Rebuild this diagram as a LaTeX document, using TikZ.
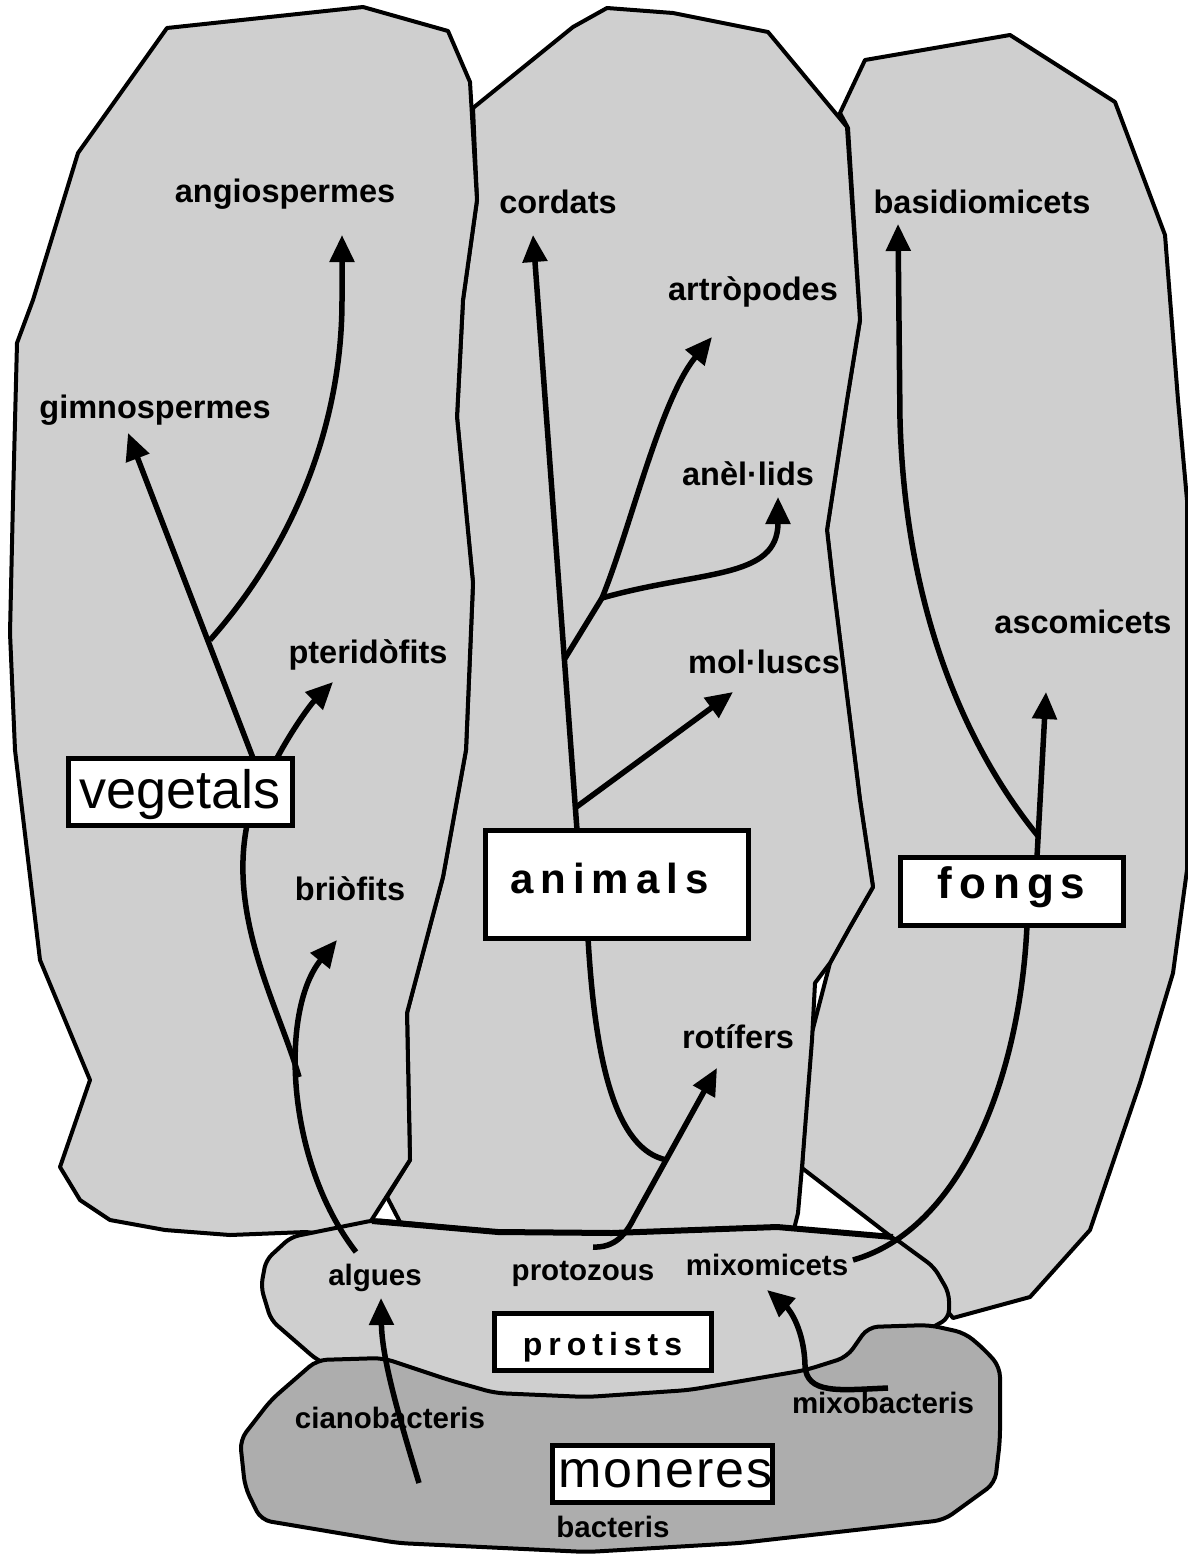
\documentclass[tikz,border=0pt]{standalone}
\usepackage{fontspec}
\setmainfont{Liberation Sans}
\usetikzlibrary{arrows.meta}
\definecolor{liteshade}{gray}{0.81}
\definecolor{darkshade}{gray}{0.68}
\begin{document}
\begin{tikzpicture}[x=1pt,y=-1pt,
  region/.style={draw=black,line width=4pt,fill=liteshade,line join=round},
  darkregion/.style={region,fill=darkshade},
  branchline/.style={line width=5.5pt},
  arr/.style={line width=5.5pt,-{Triangle[length=27pt,width=24pt]}},
  lbl/.style={font=\fontsize{32.5}{36}\selectfont\bfseries,inner sep=0pt,anchor=base},
  lowlbl/.style={font=\fontsize{29.5}{33}\selectfont\bfseries,inner sep=0pt,anchor=base},
  kbox/.style={draw=black,line width=5pt,fill=white,inner sep=0pt,anchor=center}
]
\useasboundingbox (0,0) rectangle (1188,1555);
\fill[white] (0,0) rectangle (1188,1555);

% ---------- regions ----------
\draw[region] (840,113) -- (865,60) -- (1010,35) -- (1115,102) -- (1165,235) -- (1178,400)
  -- (1187,500) -- (1187,870) -- (1173,973) -- (1140,1083) -- (1090,1230) -- (1030,1297)
  -- (953,1318) -- (930,1290) -- (898,1242) -- (802,1168) -- (810,1040) -- (830,963)
  -- (850,927) -- (873,887) -- (860,800) -- (833,583) -- (827,530) -- (847,400)
  -- (860,320) -- (848,128) -- cycle;
\draw[region] (473,108) -- (573,27) -- (607,8) -- (673,13) -- (768,32) -- (847,127)
  -- (860,320) -- (847,400) -- (827,530) -- (833,583) -- (860,800) -- (873,887)
  -- (850,927) -- (830,963) -- (815,983) -- (812,1040) -- (802,1167) -- (798,1213)
  -- (790,1245) -- (410,1245) -- (400,1222) -- (387,1197) -- (410,1160) -- (407,1013)
  -- (443,877) -- (466,750) -- (473,583) -- (457,417) -- (463,300) -- (477,200) -- cycle;
\draw[region] (167,28) -- (363,7) -- (448,31) -- (470,82) -- (477,200) -- (463,300)
  -- (457,417) -- (473,583) -- (466,750) -- (443,877) -- (407,1013) -- (410,1160)
  -- (360,1238) -- (306,1232) -- (230,1235) -- (165,1230) -- (110,1220) -- (80,1200)
  -- (60,1167) -- (90,1080) -- (40,960) -- (15,750) -- (10,633) -- (13,500)
  -- (17,343) -- (33,300) -- (78,153) -- cycle;
% protists
\draw[region,rounded corners=8pt] (291,1237) -- (375,1220) -- (498,1232) -- (612,1233)
  -- (777,1227) -- (893,1237) -- (934,1267) -- (949,1293) -- (949,1318) -- (933,1327)
  -- (900,1345) -- (800,1390) -- (600,1410) -- (450,1395) -- (340,1370) -- (317,1360)
  -- (271,1320) -- (261,1287) -- (266,1260) -- cycle;
\draw[line width=6pt,line join=round] (372,1221) -- (498,1232) -- (612,1233) -- (777,1227) -- (893,1237);
% moneres
\draw[darkregion,rounded corners=10pt] (317,1360) -- (383,1358) -- (449,1380) -- (495,1393)
  -- (587,1397) -- (689,1390) -- (806,1370) -- (847,1357) -- (868,1327) -- (929,1325)
  -- (965,1333) -- (985,1350) -- (1000,1367) -- (1000,1440) -- (995,1483) -- (944,1520)
  -- (740,1543) -- (587,1552) -- (398,1543) -- (261,1520) -- (245,1487) -- (240,1440)
  -- (271,1400) -- cycle;

% ---------- labels ----------
\node[lbl] (angio) at (285,202) {angiospermes};
\node[lbl] (cord) at (558,213) {cordats};
\node[lbl] (basid) at (982,213) {basidiomicets};
\node[lbl] (artro) at (753,300) {artròpodes};
\node[lbl] (gimno) at (155,418) {gimnospermes};
\node[lbl] (anel) at (748,485) {anèl·lids};
\node[lbl] (pteri) at (368,663) {pteridòfits};
\node[lbl] (mollu) at (764,673) {mol·luscs};
\node[lbl] (ascom) at (1083,633) {ascomicets};
\node[lbl] (brio) at (350,900) {briòfits};
\node[lbl] (roti) at (738,1048) {rotífers};
\node[lowlbl] (algu) at (375,1285) {algues};
\node[lowlbl] (proto) at (583,1280) {protozous};
\node[lowlbl] (mixom) at (767,1275) {mixomicets};
\node[lowlbl] (mixob) at (883,1413) {mixobacteris};
\node[lowlbl] (ciano) at (390,1428) {cianobacteris};
\node[lowlbl] (bact) at (613,1537) {bacteris};

% ---------- coordinates ----------
\coordinate (gimTip) at (128,433);
\coordinate (angBr) at (210,640);
\coordinate (angTip) at (342,235);
\coordinate (pteTip) at (333,682);
\coordinate (vegJoin) at (299,1077);
\coordinate (algStart) at (356,1252);
\coordinate (briTip) at (337,940);
\coordinate (corTip) at (533,235);
\coordinate (artBr) at (564,660);
\coordinate (molBr) at (575,808);
\coordinate (molTip) at (733,692);
\coordinate (annBr) at (602,598);
\coordinate (artTip) at (712,337);
\coordinate (annTip) at (778,497);
\coordinate (rotJoin) at (667,1160);
\coordinate (protStart) at (593,1247);
\coordinate (rotTip) at (717,1068);
\coordinate (ascTip) at (1046,692);
\coordinate (basBr) at (1038,836);
\coordinate (basTip) at (898,224);
\coordinate (mixEnd) at (853,1260);
\coordinate (cyStart) at (419,1483);
\coordinate (algTip) at (381,1298);
\coordinate (mxbStart) at (888,1388);
\coordinate (mxmTip) at (767,1290);

% box anchors (positions of the boxes, drawn later on top)
\coordinate (vegNW) at (68,758);
\coordinate (vegSW) at (68,825);
\coordinate (aniNW) at (485,830);
\coordinate (aniSW) at (485,938);
\coordinate (fonNW) at (900,857);
\coordinate (fonSW) at (900,925);

% ---------- connectors ----------
% vegetals
\draw[arr] ([xshift=185pt]vegNW) -- (gimTip);
\draw[arr] (angBr) .. controls (290,550) and (342,430) .. (342,300) -- (angTip);
\draw[arr] ([xshift=209pt]vegNW) .. controls (292,730) and (310,705) .. (pteTip);
\draw[branchline] ([xshift=179pt]vegSW) .. controls (228,920) and (280,1010) .. (vegJoin);
\draw[arr] (algStart) .. controls (285,1160) and (280,1010) .. (briTip);
% animals
\draw[arr] ([xshift=92pt]aniNW) -- (corTip);
\draw[arr] (molBr) -- (molTip);
\draw[branchline] (artBr) -- (annBr);
\draw[arr] (annBr) .. controls (630,530) and (660,400) .. (artTip);
\draw[arr] (annBr) .. controls (700,570) and (778,580) .. (annTip);
\draw[branchline] ([xshift=103pt]aniSW) .. controls (595,1060) and (615,1150) .. (rotJoin);
\draw[arr] (protStart) .. controls (615,1248) and (626,1234) .. (634,1218) -- (rotTip);
% fongs
\draw[arr] ([xshift=137pt]fonNW) -- (ascTip);
\draw[arr] (basBr) .. controls (960,740) and (905,600) .. (900,420) -- (basTip);
\draw[branchline] ([xshift=127pt]fonSW) .. controls (1020,1080) and (960,1230) .. (mixEnd);
% moneres
\draw[arr] (cyStart) .. controls (400,1420) and (382,1360) .. (algTip);
\draw[arr] (mxbStart) .. controls (840,1390) and (806,1395) .. (805,1365)
  .. controls (804,1330) and (790,1310) .. (mxmTip);

% ---------- boxes ----------
\node[kbox,minimum width=224pt,minimum height=67pt,text height=44pt,text depth=11pt,
  font=\fontsize{54}{60}\selectfont] (veg) at (180,791.5) {vegetals};
\node[kbox,minimum width=263pt,minimum height=108pt,text height=30pt,text depth=12pt,
  font=\fontsize{42}{48}\selectfont\bfseries] (ani) at (616.5,884)
  {a\kern7pt n\kern7pt i\kern7pt m\kern7pt a\kern7pt l\kern7pt s\kern14pt};
\node[kbox,minimum width=223pt,minimum height=68pt,text height=32pt,text depth=18pt,
  font=\fontsize{44}{50}\selectfont\bfseries] (fon) at (1011.5,891)
  {f\kern7pt o\kern7pt n\kern7pt g\kern7pt s};
\node[kbox,minimum width=217pt,minimum height=57pt,text height=34pt,text depth=7pt,
  font=\fontsize{32}{36}\selectfont\bfseries] (prot) at (602.5,1341.5)
  {p\kern6pt r\kern6pt o\kern6pt t\kern6pt i\kern6pt s\kern6pt t\kern6pt s};
\node[kbox,minimum width=217pt,minimum height=57pt,text height=28pt,text depth=0pt,
  font=\fontsize{52}{58}\selectfont] (mon) at (662.5,1473.5)
  {\kern6pt m\kern2pt o\kern2pt n\kern2pt e\kern2pt r\kern2pt e\kern2pt s};
\end{tikzpicture}
\end{document}
